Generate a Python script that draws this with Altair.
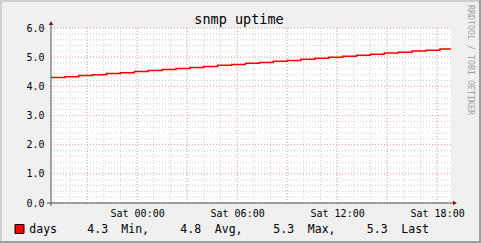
import altair as alt
import pandas as pd
from datetime import datetime, timezone, timedelta

# ---------------- data ----------------
title_text = "snmp uptime"
series_name = "days"
watermark = "RRDTOOL / TOBI OETIKER"
# uptime in days, one reading every 50 minutes
days = [4.30, 4.33, 4.37, 4.40, 4.44, 4.47, 4.51, 4.54, 4.58, 4.61,
        4.65, 4.68, 4.72, 4.75, 4.79, 4.82, 4.86, 4.89, 4.93, 4.96,
        5.00, 5.03, 5.07, 5.10, 5.14, 5.17, 5.21, 5.24, 5.28]
step_minutes = 50
x_tick_hours = [0, 6, 12, 18]          # Sat hh:00 labels
y_ticks = [0, 1, 2, 3, 4, 5, 6]
legend_words = ["Min,", "Avg,", "Max,", "Last"]

start = datetime(2021, 1, 1, 18, 50, tzinfo=timezone.utc)   # Friday
end = start + timedelta(hours=24)
sat = datetime(2021, 1, 2, 0, 0, tzinfo=timezone.utc)


def ms(d):
    return int(d.timestamp() * 1000)


times = [ms(start + timedelta(minutes=step_minutes * i)) for i in range(len(days))]
line_df = pd.DataFrame({"t": times + [ms(end)], "v": days + [days[-1]]})

hours = [sat + timedelta(hours=h) for h in range(-5, 19)]
minor_x = pd.DataFrame({"t": [ms(h) for h in hours]})
major_x = pd.DataFrame({"t": [ms(h) for h in hours if h.hour % 3 == 0]})
minor_y = pd.DataFrame({"v": [round(i * 0.2, 1) for i in range(31)]})
major_y = pd.DataFrame({"v": y_ticks})

x_values = [ms(sat + timedelta(hours=h)) for h in x_tick_hours]

vmin = min(days)
vavg = sum(days) / len(days)
vmax = max(days)
vlast = days[-1]

# ---------------- styles ----------------
MONO = "DejaVu Sans Mono"
BACK = "#F0F0F0"
GRID = "#D2D2D2"
MGRID = "#EDA8A8"
AXIS = "#555555"
ARROW = "#8B1A1A"

xscale = alt.Scale(type="utc", domain=[ms(start), ms(end)])
yscale = alt.Scale(domain=[0, 6], nice=False, zero=False)
one = pd.DataFrame({"a": [0]})

xaxis = alt.Axis(
    values=x_values, labelExpr="utcFormat(datum.value, '%a %H:%M')",
    grid=False, ticks=False, domain=False, title=None, labelFlush=False,
    labelFont=MONO, labelFontSize=10, labelColor="#000000", labelPadding=5,
    labelOverlap=False)
yaxis = alt.Axis(
    values=y_ticks, format=".1f", grid=False, ticks=False, domain=False,
    title=None, labelFont=MONO, labelFontSize=10, labelColor="#000000",
    labelPadding=7, labelFlush=False, labelOverlap=False)


def X():
    return alt.X("t:T", scale=xscale, axis=xaxis)


def Y():
    return alt.Y("v:Q", scale=yscale, axis=yaxis)


grid_minor_x = alt.Chart(minor_x).mark_rule(color=GRID, strokeDash=[1, 2], strokeWidth=1).encode(x=X())
grid_minor_y = alt.Chart(minor_y).mark_rule(color=GRID, strokeDash=[1, 2], strokeWidth=1).encode(y=Y())
grid_major_x = alt.Chart(major_x).mark_rule(color=MGRID, strokeDash=[1, 2], strokeWidth=1).encode(x=X())
grid_major_y = alt.Chart(major_y).mark_rule(color=MGRID, strokeDash=[1, 2], strokeWidth=1).encode(y=Y())

line = alt.Chart(line_df).mark_line(interpolate="step-after", color="#FF0000", strokeWidth=1.5).encode(
    x=X(), y=Y())

# axes lines + arrows
y_axis_line = alt.Chart(one).mark_rule(color=AXIS, strokeWidth=1).encode(
    x=alt.value(0), y=alt.value(-3), y2=alt.value(178))
x_axis_line = alt.Chart(one).mark_rule(color=AXIS, strokeWidth=1).encode(
    x=alt.value(-4), x2=alt.value(402), y=alt.value(175))
arrow_up = alt.Chart(one).mark_point(shape="triangle-up", filled=True, size=22, color=ARROW, opacity=1).encode(
    x=alt.value(0), y=alt.value(-5))
arrow_right = alt.Chart(one).mark_point(shape="triangle-right", filled=True, size=22, color=ARROW, opacity=1).encode(
    x=alt.value(404), y=alt.value(175))

# title & watermark
title = alt.Chart(one).mark_text(font=MONO, fontSize=13.5, color="#000000", align="center",
                                 baseline="alphabetic", text=title_text).encode(
    x=alt.value(188), y=alt.value(-4.5))
wm = alt.Chart(one).mark_text(font=MONO, fontSize=8.3, color="#A0A0A0", align="center",
                              baseline="middle", angle=90, text=watermark).encode(
    x=alt.value(419), y=alt.value(32))

# legend
legend_box = alt.Chart(one).mark_rect(fill="#FF0000", stroke="#000000", strokeWidth=1).encode(
    x=alt.value(-36), x2=alt.value(-27), y=alt.value(196.5), y2=alt.value(205.5))
legend_items = [series_name,
                f"{vmin:.1f}", legend_words[0],
                f"{vavg:.1f}", legend_words[1],
                f"{vmax:.1f}", legend_words[2],
                f"{vlast:.1f}", legend_words[3]]
legend_px = [30, 88, 122, 181, 215.5, 274, 308.5, 367.5, 402]   # layout (canvas px)
legend_layers = [
    alt.Chart(one).mark_text(font=MONO, fontSize=11.5, color="#000000", align="left",
                             baseline="alphabetic", text=s).encode(
        x=alt.value(px - 51.7), y=alt.value(205))
    for s, px in zip(legend_items, legend_px)
]

# frame (3D shade)
SHADEA = "#CFCFCF"
SHADEB = "#9E9E9E"
frame = [
    alt.Chart(one).mark_rule(color=SHADEA, strokeWidth=2).encode(
        x=alt.value(-50), y=alt.value(-28), y2=alt.value(215)),
    alt.Chart(one).mark_rule(color=SHADEA, strokeWidth=2).encode(
        x=alt.value(-51), x2=alt.value(430), y=alt.value(-27)),
    alt.Chart(one).mark_rule(color=SHADEB, strokeWidth=2).encode(
        x=alt.value(429), y=alt.value(-28), y2=alt.value(215)),
    alt.Chart(one).mark_rule(color=SHADEB, strokeWidth=2).encode(
        x=alt.value(-51), x2=alt.value(430), y=alt.value(214)),
]

chart = alt.layer(
    grid_minor_x, grid_minor_y, grid_major_x, grid_major_y,
    line, y_axis_line, x_axis_line, arrow_up, arrow_right,
    title, wm, legend_box, *legend_layers, *frame
).properties(
    width=400, height=175,
    autosize=alt.AutoSizeParams(type="none"),
    padding={"left": 51, "top": 28, "right": 30, "bottom": 40},
    background=BACK,
).configure_view(stroke=None, fill="#FFFFFF")

chart.save("out.html", embed_options={"renderer": "svg", "actions": False})
